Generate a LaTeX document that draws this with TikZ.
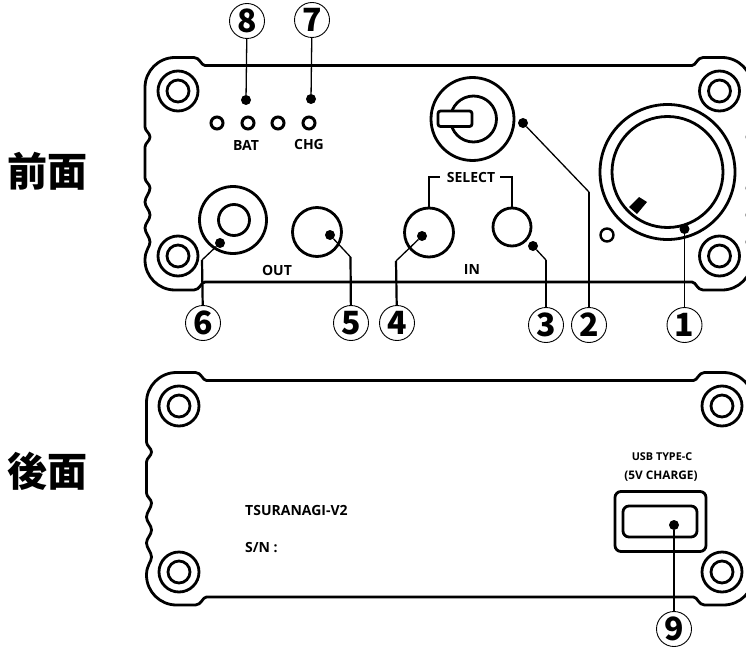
\documentclass[tikz,border=0pt]{standalone}
\usepackage{fontspec}
\setmainfont{Open Sans}
\newfontfamily\cjkfont{Noto Sans CJK JP}
\usepackage{tikz}
\usetikzlibrary{positioning,calc}

\tikzset{
  pics/panelbody/.style={code={
    \draw[outline] (205,65.5) -- (692,65.5)
      .. controls (696,65.5) and (697,57.5) .. (703,57.5) -- (722,57.5)
      .. controls (738.6,57.5) and (752,71) .. (752,87.5) -- (752,127)
      .. controls (752,131) and (747,133) .. (747,137)
      .. controls (747,141) and (752,143) .. (752,147) -- (752,178)
      .. controls (752,182) and (747,184) .. (747,188)
      .. controls (747,193) and (752,197) .. (752,202)
      .. controls (752,207) and (747,210) .. (747,215)
      .. controls (747,220) and (752,223) .. (752,228)
      .. controls (752,233) and (747,237) .. (747,242)
      .. controls (747,247) and (752,250) .. (752,260)
      .. controls (752,276.6) and (738.6,290) .. (722,290) -- (703,290)
      .. controls (697,290) and (696,282) .. (692,282) -- (205,282)
      .. controls (201,282) and (200,290) .. (194,290) -- (175,290)
      .. controls (158.4,290) and (145,276.6) .. (145,260)
      .. controls (145,250) and (150,247) .. (150,242)
      .. controls (150,237) and (145,233) .. (145,228)
      .. controls (145,223) and (150,220) .. (150,215)
      .. controls (150,210) and (145,207) .. (145,202)
      .. controls (145,197) and (150,193) .. (150,188)
      .. controls (150,184) and (145,182) .. (145,178) -- (145,147)
      .. controls (145,143) and (150,141) .. (150,137)
      .. controls (150,133) and (145,131) .. (145,127) -- (145,87.5)
      .. controls (145,71) and (158.4,57.5) .. (175,57.5) -- (194,57.5)
      .. controls (200,57.5) and (201,65.5) .. (205,65.5) -- cycle;
  }},
  pics/screw/.style={code={
    \draw[part] (0,0) circle (20);
    \draw[part] (0,0) circle (11);
  }},
}

\begin{document}
\begin{tikzpicture}[
      x=1pt,y=-1pt,
      every node/.style={font=\fontsize{14}{16}\selectfont\bfseries},
      outline/.style={line width=2.8pt,black,line join=round},
      part/.style={line width=2.8pt,black},
      thinpart/.style={line width=2.2pt,black},
      led/.style={circle,draw,line width=3pt,minimum size=12pt,inner sep=0pt},
      tag/.style={circle,draw,line width=0.9pt,minimum size=35pt,inner sep=0pt,
                  font=\cjkfont\fontsize{32}{32}\selectfont\bfseries},
      spot/.style={circle,fill=black,minimum size=10pt,inner sep=0pt},
      lead/.style={line width=1.3pt,black},
      leadbold/.style={line width=2.2pt,black},
      side/.style={inner sep=0pt,font=\cjkfont\fontsize{40}{40}\selectfont\bfseries},
      usbtext/.style={inner sep=0pt,font=\fontsize{10.8}{12}\selectfont\bfseries},
      nametext/.style={anchor=west,inner sep=0pt},
    ]
    \useasboundingbox (0,0) rectangle (746,647);
    \clip (0,0) rectangle (746,647);

    % Panels and screws
    \pic at (0,0) {panelbody};
    \pic at (1.5,315) {panelbody};
    \foreach \sx/\sy in {178/91,178/256,719.5/91,719.5/256,179/406,179/572,722/406,722/572}
      \pic at (\sx,\sy) {screw};

    % Front parts
    \draw[part] (667.5,172) circle (67.5);
    \draw[part] (667.5,172) circle (55.5);
    \fill (639,197) -- (647,202) -- (637,214) -- (629,207) -- cycle;
    \draw[part] (472.5,119) circle (41.5);
    \draw[part] (473.5,119) circle (23);
    \draw[part,fill=white,rounded corners=2.5pt] (438,111) rectangle (472,126.5);
    \draw[part] (233,220) circle (33.5);
    \draw[part] (234,220) circle (15.5);
    \draw[part] (317,232) circle (24.5);
    \draw[part] (429,232.5) circle (24.5);
    \draw[part] (512,227) circle (19);

    % LEDs
    \foreach \lx [count=\li] in {217,248,278,309}
      \node[led] (led\li) at (\lx,123) {};
    \node[led,line width=2.4pt,minimum size=13pt] (ledpwr) at (607,235) {};

    % Front labels
    \node (bat) at (246,145) {BAT};
    \node (chg) at (309,145) {CHG};
    \node (select) at (471,177) {SELECT};
    \node (out) at (277,270) {OUT};
    \node (in) at (472,270) {IN};
    \draw[thinpart] (429,207) |- (440,177);
    \draw[thinpart] (512,207) |- (500,177);

    % Rear parts
    \node[nametext] (model) at (245,510) {TSURANAGI-V2};
    \node[nametext] (serial) at (245,548) {S/N :};
    \node[usbtext] (usbname) at (662,457) {USB TYPE-C};
    \node[usbtext,font=\fontsize{11.8}{13}\selectfont\bfseries] (usbnote) at (661,476) {(5V CHARGE)};
    \draw[part,rounded corners=6pt] (615,491.5) rectangle (706,551.5);
    \draw[part,rounded corners=6pt] (623,506) rectangle (697,537);

    % Side titles
    \node[side] (front) at (47,171) {前面};
    \node[side] (rear) at (47,471) {後面};

    % Numbered tags
    \node[tag] (n1) at (684.5,325) {1};
    \node[tag] (n2) at (589,325) {2};
    \node[tag] (n3) at (546,325) {3};
    \node[tag] (n4) at (397,323) {4};
    \node[tag] (n5) at (351,323) {5};
    \node[tag] (n6) at (203,323) {6};
    \node[tag] (n7) at (312,20) {7};
    \node[tag] (n8) at (247,21) {8};
    \node[tag] (n9) at (674,629) {9};

    % Spots on the parts
    \node[spot] (s1) at (684.5,229) {};
    \node[spot] (s2) at (523,123) {};
    \node[spot] (s3) at (533,246) {};
    \node[spot] (s4) at (422,236) {};
    \node[spot] (s5) at (330,235) {};
    \node[spot] (s6) at (220,243) {};
    \node[spot] (s7) at (311,99) {};
    \node[spot] (s8) at (246,100) {};
    \node[spot] (s9) at (674,525) {};

    % Bends of the leads
    \coordinate (b2) at (589,192);
    \coordinate (b3) at (546,260);
    \coordinate (b4) at (396,261);
    \coordinate (b5) at (350.5,257);
    \coordinate (b6) at (202,260);

    % Leads
    \draw[lead] (n1) -- (s1);
    \draw[leadbold] (n2) -- (b2);
    \draw[lead] (b2) -- (s2);
    \draw[leadbold] (n3) -- (b3);
    \draw[lead] (b3) -- (s3);
    \draw[leadbold] (n4) -- (b4);
    \draw[lead] (b4) -- (s4);
    \draw[leadbold] (n5) -- (b5);
    \draw[lead] (b5) -- (s5);
    \draw[leadbold] (n6) -- (b6);
    \draw[lead] (b6) -- (s6);
    \draw[lead] (n7) -- (s7);
    \draw[lead] (n8) -- (s8);
    \draw[lead] (n9) -- (s9);

  \end{tikzpicture}
\end{document}
